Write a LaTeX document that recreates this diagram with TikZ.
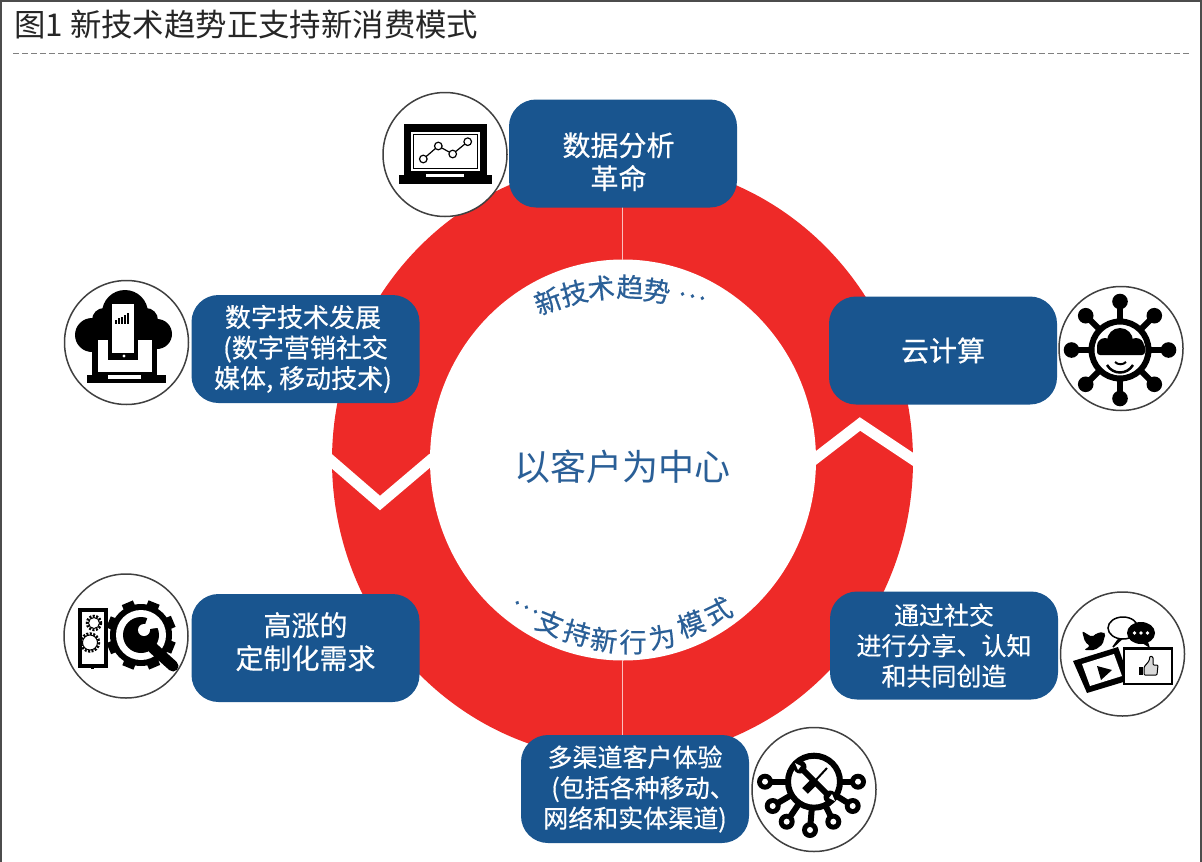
\documentclass[tikz,border=0pt]{standalone}
\usepackage{fontspec}
\setmainfont{Noto Sans CJK SC}
\newfontfamily\boxfont[FakeBold=0.5]{Noto Sans CJK SC}
\usetikzlibrary{positioning}
\definecolor{ringred}{HTML}{EE2A28}
\definecolor{boxblue}{HTML}{19558F}
\definecolor{textblue}{HTML}{2A5F97}
\newcommand{\boxbig}{\boxfont\fontsize{28}{33}\selectfont}
\newcommand{\boxmid}{\boxfont\fontsize{26}{30.5}\selectfont}
\newcommand{\boxsmall}{\boxfont\fontsize{25}{30.5}\selectfont}
\tikzset{
boxlabel/.style={fill=boxblue,text=white,rounded corners=27pt,minimum width=228pt,minimum height=108pt,align=center,inner sep=0pt},
iconring/.style={circle,draw=black!75,line width=1.5pt,fill=white,minimum size=124pt,inner sep=0pt},
ringchar/.style={text=textblue,inner sep=0pt,font=\boxfont\fontsize{27}{27}\selectfont},
inkline/.style={draw=black,line width=6pt},
thinline/.style={draw=black,line width=1.5pt}
}
\begin{document}
\begin{tikzpicture}[x=1pt,y=-1pt]
\useasboundingbox (0,0) rectangle (1202,862);
\fill[white] (0,0) rectangle (1202,862);
\draw[black!70,line width=2pt] (0.5,862) -- (0.5,1) -- (1201,1) -- (1201,862);
\node[anchor=west,font=\fontsize{31.4}{31.4}\selectfont,text=black!85,inner sep=0pt] (title) at (14,25) {图1 新技术趋势正支持新消费模式};
\draw[black!50,dash pattern=on 6pt off 3pt,line width=1pt] (13,53) -- (1190,53);
% ring
\fill[ringred] (622.5,460.5) ellipse (290.5 and 299);
\fill[white] (623,460) ellipse (193 and 200.5);
\draw[white!70!ringred,line width=1pt] (622.5,170) -- (622.5,260);
\draw[white!70!ringred,line width=1pt] (622.5,660) -- (622.5,750);
\draw[white,line width=11pt] (328,458) -- (380,503) -- (433,458);
\draw[white,line width=11pt] (812,461) -- (860,424) -- (917,462);
\node[text=textblue,font=\fontsize{36}{36}\selectfont] (core) at (622,467) {以客户为中心};
\foreach \ch/\x/\y/\r in {新/548/301/20,技/574/293/14,术/601/288/6,趋/630/287/-2,势/657/291/-9,…/692/296/-12}
  \node[ringchar,rotate=\r] at (\x,\y) {\ch};
\foreach \ch/\x/\y/\r in {…/526/607/-26,支/550/623/-22,持/577/633/-16,新/604/640/-8,行/633/642/0,为/662/637/10,模/691/624/20,式/718/611/26}
  \node[ringchar,rotate=\r] at (\x,\y) {\ch};
% boxes
\node[boxlabel,font=\boxbig] (data) at (623,153.5) {\rule{0pt}{40pt}数据分析\hspace*{9pt}\\革命\hspace*{9pt}};
\node[boxlabel,font=\boxmid] (digital) at (305.5,349) {数字技术发展\hspace*{5pt}\\(数字营销社交\hspace*{5pt}\\媒体, 移动技术)\hspace*{5pt}};
\node[boxlabel,font=\boxbig] (cloud) at (943,350.5) {云计算};
\node[boxlabel,font=\boxbig] (custom) at (305.5,648) {高涨的\\定制化需求\rule[-15pt]{0pt}{1pt}};
\node[boxlabel,font=\boxsmall] (social) at (944,645.5) {通过社交\\进行分享、认知\\和共同创造};
\node[boxlabel,font=\boxsmall] (channel) at (635,789) {多渠道客户体验\\\hspace*{16pt}(包括各种移动、\\网络和实体渠道)};
\node[iconring] (iconA) at (445,154.5) {};
\node[iconring] (iconB) at (126.5,342.5) {};
\node[iconring] (iconC) at (1121,348.5) {};
\node[iconring] (iconD) at (126,636) {};
\node[iconring] (iconE) at (1122.5,654) {};
\node[iconring] (iconF) at (814,789.5) {};
% laptop with chart
\fill (404,124) rectangle (487,176);
\fill (399,175) rectangle (492,183.5);
\fill[white] (426,174) rectangle (464,177);
\fill[white] (411,132) rectangle (480,171);
\draw[black,line width=1pt] (413.5,134.5) rectangle (477.5,168.5);
\draw[black,line width=1.2pt] (423.3,159) -- (438.3,146) -- (452.7,154) -- (467.7,141.7);
\foreach \x/\y in {423.3/159,438.3/146,452.7/154,467.7/141.7}
  \draw[black,line width=1.2pt,fill=white] (\x,\y) circle (3.8);
% cloud with phone and laptop
\fill (125,313) circle (23);
\fill (92,335) circle (17);
\fill (157,334) circle (15);
\fill (104,320) circle (12);
\fill (146,320) circle (12);
\fill (92,325) rectangle (157,358);
\fill (92,340) rectangle (157,377);
\fill (87,375) rectangle (166,382.5);
\fill[white] (98,340) rectangle (152,371.5);
\fill[black] (108,340) rectangle (138,360);
\fill[white] (112,304) rectangle (134,353);
\fill[white] (124,356) circle (1.6);
\fill[white] (108,374.5) rectangle (141,378.5);
\foreach \x/\h in {115/4,118/6,121/7,124/9,127/11}
  \fill (\x,{324-\h}) rectangle ++(2.2,\h);
% hub with cloud
\foreach \a in {0,45,...,315}{
  \draw[inkline] (1120,350) ++(\a:28) -- ++(\a:20);
  \fill (1120,350) ++(\a:48.5) circle (7.8);
}
\draw[inkline] (1120,350) circle (28.5);
\fill (1120,341) circle (13);
\fill (1105,346) circle (8);
\fill (1136,346) circle (8);
\fill[rounded corners=3pt] (1097,344) rectangle (1145,355);
\draw[black,line width=2.5pt] (1107,365) .. controls (1113,375) and (1127,375) .. (1133,365);
\draw[black,line width=2pt] (1115,362) .. controls (1118,365) and (1123,365) .. (1126,362);
% phone, gear and magnifier
\draw[black,line width=4pt,fill=white] (80,610) rectangle (106,666);
\fill (91,666) rectangle (94,669);
\draw[black,line width=2.5pt,dash pattern=on 2pt off 1.5pt] (94,623) circle (7);
\draw[black,line width=2.5pt,dash pattern=on 2pt off 1.5pt] (90,642.5) circle (9);
\draw[black,line width=1pt] (94,623) circle (5.5) (90,642.5) circle (7.5);
\foreach \a in {0,45,...,315}
  \draw[black,line width=12pt] (141,635) ++(\a+22:26) -- ++(\a+22:9);
\fill (141,635) circle (31);
\fill[white] (141,635) circle (25);
\draw[black,line width=11pt,line cap=round] (153,648) -- (173,666);
\fill (141,635) circle (18);
\fill[white] (143,630) -- (149,614) -- (163,627) -- cycle;
\fill[white] (144,630) circle (6);
% social media
\fill[rounded corners=2pt] (1082,631) -- (1092,637) -- (1097,633) -- (1103,632) -- (1106,634) -- (1104,638) -- (1103,644) -- (1095,650) -- (1084,650) -- (1090,646) -- (1085,642) -- cycle;
\draw[thinline,fill=white] (1118,640) -- (1113,647) -- (1121,639.5) -- cycle;
\draw[thinline,fill=white] (1123,628) ellipse (15 and 11);
\fill (1141,633) ellipse (14 and 11);
\fill (1148,642) -- (1150,648) -- (1142,643) -- cycle;
\foreach \x in {1134.5,1141,1147.5}
  \fill[white] (\x,633) circle (1.8);
\fill (1073,661) -- (1118,647) -- (1130,680) -- (1087,693) -- cycle;
\fill[white] (1082,664) -- (1114,654) -- (1122,676) -- (1090,686) -- cycle;
\fill (1097,666) -- (1112,670) -- (1101,680) -- cycle;
\draw[thinline,fill=white] (1124,648) rectangle (1172,684);
\fill (1124,647) rectangle (1172,650);
\fill (1139,667) rectangle (1143,675);
\fill[white!85!black,draw=black,line width=1pt,rounded corners=1pt] (1144,667) -- (1149,661) -- (1150,656) -- (1153,657) -- (1153,665) -- (1158,665) -- (1157,675) -- (1144,675) -- cycle;
% tools hub
\foreach \x/\y in {765/781.7,858/781.7,772.7/806,852.7/806,786.7/821.7,833.3/821.7,810/830}{
  \draw[inkline] (814,781.7) -- (\x,\y);
}
\fill[white] (814,781.7) circle (26);
\draw[inkline] (814,781.7) circle (26);
\foreach \x/\y in {765/781.7,858/781.7,772.7/806,852.7/806,786.7/821.7,833.3/821.7,810/830}{
  \fill (\x,\y) circle (8);
  \fill[white] (\x,\y) circle (3);
}
\draw[black,line width=6pt] (801,768) -- (829,796);
\fill (800,767) circle (6.5);
\fill (830,797) circle (6.5);
\fill[white] (795,763) -- (801,766) -- (798,770) -- cycle;
\fill[white] (835,801) -- (829,798) -- (832,794) -- cycle;
\draw[black,line width=2pt] (827,768) -- (815,781);
\draw[black,line width=8pt] (813,783) -- (805,791);
\end{tikzpicture}
\end{document}
